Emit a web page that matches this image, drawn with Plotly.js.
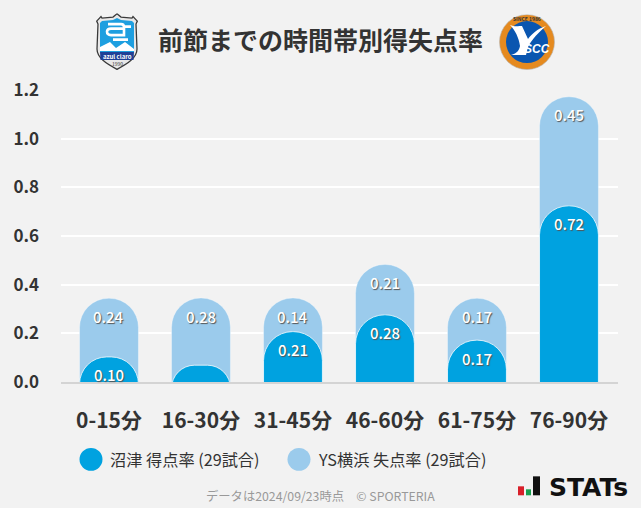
<!DOCTYPE html>
<html>
<head>
<meta charset="utf-8">
<script src="https://cdn.plot.ly/plotly-3.0.1.min.js"></script>
<style>
  html, body { margin: 0; padding: 0; background: #f2f2f2; }
</style>
</head>
<body>
<div id="plotMap" style="width:641px;height:508px;"></div>
<script>
var W = 641, H = 508;
var FONT = '"Noto Sans CJK JP", "Noto Sans", sans-serif';

var categories = ['0-15分', '16-30分', '31-45分', '46-60分', '61-75分', '76-90分'];
var scored = [0.103, 0.069, 0.207, 0.276, 0.172, 0.724];
var conceded = [0.241, 0.276, 0.138, 0.207, 0.172, 0.448];
var scoredLabels = ['0.10', '', '0.21', '0.28', '0.17', '0.72'];
var concededLabels = ['0.24', '0.28', '0.14', '0.21', '0.17', '0.45'];
var yTicks = [0, 0.2, 0.4, 0.6, 0.8, 1.0, 1.2];
var yTickLabels = ['0.0', '0.2', '0.4', '0.6', '0.8', '1.0', '1.2'];

var DARK = '#00a2e0', LIGHT = '#9bcbec';
var M = {l: 61, r: 23, t: 90, b: 125.5};

// light bar sits behind the dark one, so it runs from zero up to the sum
var totals = scored.map(function (v, i) { return v + conceded[i]; });

// dark bars start under the axis (clipped there) so short bars still get the whole arch
var UNDER = 0.12;
var scoredHeights = scored.map(function (v) { return v + UNDER; });

// page pixels -> paper fractions of the plot area
function px(x) { return (x - M.l) / (W - M.l - M.r); }
function py(y) { return 1 - (y - M.t) / (H - M.t - M.b); }

var trace1 = {
  x: categories, y: totals, type: 'bar', name: 'YS横浜 失点率 (29試合)',
  marker: {color: LIGHT, line: {color: 'rgba(255,255,255,0.35)', width: 1}},
  hoverinfo: 'skip'
};
// second pair of axes, otherwise only the tallest bar at a position gets round corners
var trace2 = {
  x: categories, y: scoredHeights, base: -UNDER, type: 'bar', name: '沼津 得点率 (29試合)',
  xaxis: 'x2', yaxis: 'y2',
  marker: {color: DARK, line: {color: 'rgba(255,255,255,0.75)', width: 1}},
  hoverinfo: 'skip'
};
var data = [trace1, trace2];

function note(text, x, y, size, color, weight, anchor, fam, style) {
  return {text: text, xref: 'paper', yref: 'paper', x: px(x), y: py(y), showarrow: false,
    xanchor: anchor || 'center', yanchor: 'middle',
    font: {family: fam || FONT, size: size, color: color, weight: weight || 400, style: style || 'normal'}};
}
// value labels hang just under the top of each bar (bar text shrinks on short round bars)
function barLabel(text, i, top) {
  return {text: text, xref: 'x', yref: 'y', x: i, y: top, yshift: -18, showarrow: false,
    xanchor: 'center', yanchor: 'middle',
    font: {family: FONT, size: 15, color: '#fff', weight: 500, shadow: '1px 1px 1px #555'}};
}
function circle(cx, cy, r, color) {
  return {type: 'circle', xref: 'paper', yref: 'paper', x0: px(cx - r), x1: px(cx + r),
    y0: py(cy + r), y1: py(cy - r), fillcolor: color, line: {width: 0}};
}
function rect(x0, y0, x1, y1, color) {
  return {type: 'rect', xref: 'paper', yref: 'paper', x0: px(x0), x1: px(x1),
    y0: py(y1), y1: py(y0), fillcolor: color, line: {width: 0}};
}

var shieldSvg = '<svg xmlns="http://www.w3.org/2000/svg" viewBox="0 0 42 57" preserveAspectRatio="none">' +
  '<path d="M21 0.7 L25 4 L36 5 L37 3.5 L41.3 8 L40 11 L41 36 C41 45 31 51 21 56.3 C11 51 1 45 1 36 L2 11 L0.7 8 L5 3.5 L6 5 L17 4 Z" fill="#e8e8e8" stroke="#3a3a3a" stroke-width="1.3"/>' +
  '<path d="M21 5 L25 7 L36 8 L38 10 L38 39 L4 39 L4 10 L6 8 L17 7 Z" fill="#1e9fe0"/>' +
  '<path d="M4 38 L4 34 L14 29 L20 35 L29 29 L38 36 L38 38 Z" fill="#fff"/>' +
  '<path d="M12 11 H25 Q28 11 28 14 V22 H15 Q11 22 11 18.5 Q11 15.5 15 15.5 H28 M28 13.5 H35 M17 26.5 H32" fill="none" stroke="#fff" stroke-width="2.6"/>' +
  '<path d="M4 39 H38 L37.5 47 L4.5 47 Z" fill="#1f3f96"/>' +
  '</svg>';
var yscSvg = '<svg xmlns="http://www.w3.org/2000/svg" viewBox="0 0 56 56" preserveAspectRatio="none">' +
  '<circle cx="28" cy="28" r="27.5" fill="#e58a1f" stroke="#b5b5b5" stroke-width="0.6"/>' +
  '<circle cx="28" cy="28" r="21" fill="#0a56b0"/>' +
  '<path d="M11 11 C15 13 20 12 23 12 L29 25 C33 20 38 15 47 12 C40 18 33 25 29 33 L27 41 L12 41 C16 40 20 38 21 32 C20 24 16 16 11 11 Z" fill="#fff"/>' +
  '</svg>';
function svgUri(s) { return 'data:image/svg+xml;charset=utf-8,' + encodeURIComponent(s); }

var annotations = [
  note(trace2.name, 108, 460, 16.2, '#333', 400, 'left'),
  note(trace1.name, 316, 460, 16.2, '#333', 400, 'left'),
  note('データは2024/09/23時点　© SPORTERIA', 320.5, 497, 12.3, '#999'),
  note('STATs', 547, 488, 25, '#111', 700, 'left', '"DejaVu Sans", sans-serif'),
  note('azul claro', 117, 56, 6, '#fff', 700),
  note('1990', 117, 63, 5, '#333', 400),
  note('SCC', 537, 49, 12, '#fff', 700, 'center', '"Liberation Sans", sans-serif', 'italic'),
  note('SINCE 1986', 527, 18.5, 5, '#333', 700)
];
categories.forEach(function (c, i) {
  annotations.push(barLabel(concededLabels[i], i, totals[i]));
  if (scoredLabels[i]) annotations.push(barLabel(scoredLabels[i], i, scored[i]));
});

var layout = {
  width: W, height: H,
  margin: M,
  paper_bgcolor: '#f2f2f2', plot_bgcolor: '#f2f2f2',
  font: {family: FONT, color: '#333'},
  showlegend: false,
  barmode: 'overlay', bargap: 0.36, barcornerradius: 29,
  xaxis: {
    type: 'category', categoryorder: 'array', categoryarray: categories,
    range: [-0.5217, 5.533], showgrid: false, zeroline: false,
    showline: true, linecolor: '#d4d4d4', linewidth: 2, ticks: '',
    ticklabelstandoff: 19,
    tickfont: {family: FONT, size: 21, color: '#333', weight: 700}
  },
  yaxis: {
    range: [0, 1.2], tickmode: 'array', tickvals: yTicks, ticktext: yTickLabels,
    gridcolor: '#ffffff', gridwidth: 2, zeroline: false, showline: false, ticks: '',
    ticklabelstandoff: 21,
    tickfont: {family: FONT, size: 17, color: '#333', weight: 700}
  },
  xaxis2: {
    type: 'category', categoryorder: 'array', categoryarray: categories,
    range: [-0.5217, 5.533], overlaying: 'x', anchor: 'y2', visible: false
  },
  yaxis2: {
    range: [0, 1.2], overlaying: 'y', anchor: 'x2', visible: false
  },
  title: {
    text: '前節までの時間帯別得失点率', x: 320.5 / W, xanchor: 'center', xref: 'container',
    y: 1 - 41 / H, yanchor: 'middle', yref: 'container',
    font: {family: FONT, size: 25, color: '#333', weight: 700}
  },
  shapes: [
    circle(91, 460, 11.5, DARK),
    circle(299, 460, 11.5, LIGHT),
    rect(518, 487, 524, 496, '#d8202a'),
    rect(526, 490, 531, 496, '#18a050'),
    rect(533, 477, 540, 496, '#111111')
  ],
  annotations: annotations,
  images: [
    {source: svgUri(shieldSvg), xref: 'paper', yref: 'paper', x: px(96), y: py(13), sizex: 42 / 557, sizey: 57 / 292.5,
      xanchor: 'left', yanchor: 'top', sizing: 'stretch', layer: 'above'},
    {source: svgUri(yscSvg), xref: 'paper', yref: 'paper', x: px(499), y: py(14), sizex: 56 / 557, sizey: 56 / 292.5,
      xanchor: 'left', yanchor: 'top', sizing: 'stretch', layer: 'above'}
  ]
};

Plotly.newPlot('plotMap', data, layout, {displayModeBar: false, staticPlot: true});
</script>
</body>
</html>
